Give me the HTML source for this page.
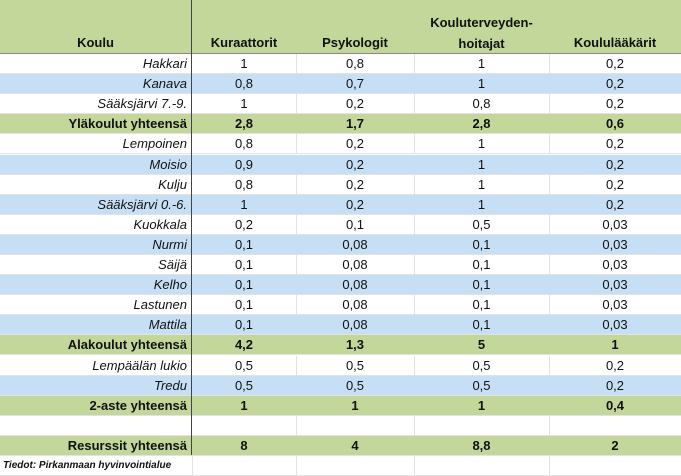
<!DOCTYPE html>
<html><head><meta charset="utf-8"><style>
body{margin:0;width:681px;height:476px;background:#fff;font-family:"Liberation Sans",sans-serif;font-size:13px;color:#111;overflow:hidden;position:relative}
.r{position:absolute;left:0;width:681px;height:20px;border-bottom:1px solid #e2e2e2;box-sizing:border-box}
.c{position:absolute;top:0;height:20px;line-height:20px;text-align:center}
.n{left:0;width:187px;text-align:right;font-style:italic}
.g{background:#c4d79b}.b{background:#c6dff5}
.g .c{font-weight:bold;font-style:normal}
.v{position:absolute;top:0;height:20px;border-left:1px solid #e2e2e2}
</style></head><body>
<div style="position:absolute;left:0;top:0;width:681px;height:53px;background:#c4d79b"></div>
<div style="position:absolute;left:0;top:53px;width:681px;height:1px;background:#888"></div>
<div style="position:absolute;left:0;top:35px;width:191px;text-align:center;font-weight:bold">Koulu</div>
<div style="position:absolute;left:192px;top:35px;width:104px;text-align:center;font-weight:bold">Kuraattorit</div>
<div style="position:absolute;left:296px;top:35px;width:118px;text-align:center;font-weight:bold">Psykologit</div>
<div style="position:absolute;left:414px;top:12px;width:135px;text-align:center;font-weight:bold;line-height:21px">Kouluterveyden-<br>hoitajat</div>
<div style="position:absolute;left:549px;top:35px;width:132px;text-align:center;font-weight:bold">Koululääkärit</div>
<div id="t"></div>
<div style="position:absolute;left:191px;top:0;width:1px;height:455px;background:#444;z-index:5"></div>
<script>
var rows=[["Hakkari","1","0,8","1","0,2",""],["Kanava","0,8","0,7","1","0,2","b"],["Sääksjärvi 7.-9.","1","0,2","0,8","0,2",""],["Yläkoulut yhteensä","2,8","1,7","2,8","0,6","g"],["Lempoinen","0,8","0,2","1","0,2",""],["Moisio","0,9","0,2","1","0,2","b"],["Kulju","0,8","0,2","1","0,2",""],["Sääksjärvi 0.-6.","1","0,2","1","0,2","b"],["Kuokkala","0,2","0,1","0,5","0,03",""],["Nurmi","0,1","0,08","0,1","0,03","b"],["Säijä","0,1","0,08","0,1","0,03",""],["Kelho","0,1","0,08","0,1","0,03","b"],["Lastunen","0,1","0,08","0,1","0,03",""],["Mattila","0,1","0,08","0,1","0,03","b"],["Alakoulut yhteensä","4,2","1,3","5","1","g"],["Lempäälän lukio","0,5","0,5","0,5","0,2",""],["Tredu","0,5","0,5","0,5","0,2","b"],["2-aste yhteensä","1","1","1","0,4","g"],["","","","","",""],["Resurssit yhteensä","8","4","8,8","2","g"]];
var L=[192,296,414,549,681],h="";
rows.forEach(function(r,i){var top=54+i*20.1;h+='<div class="r '+r[5]+'" style="top:'+top+'px">';
if(!r[5]){for(var k=1;k<4;k++)h+='<div class="v" style="left:'+L[k]+'px"></div>';}
h+='<div class="c n">'+r[0]+'</div>';for(var k=0;k<4;k++)h+='<div class="c" style="left:'+L[k]+'px;width:'+(L[k+1]-L[k])+'px">'+r[k+1]+'</div>';h+='</div>';});
h+='<div class="r" style="top:'+(54+20*20.1)+'px"><div class="v" style="left:192px"></div><div class="v" style="left:296px"></div><div class="v" style="left:414px"></div><div class="v" style="left:549px"></div><div class="c" style="left:3px;font-size:10px;font-weight:bold;font-style:italic">Tiedot: Pirkanmaan hyvinvointialue</div></div>';
document.getElementById("t").innerHTML=h;
</script>
</body></html>
